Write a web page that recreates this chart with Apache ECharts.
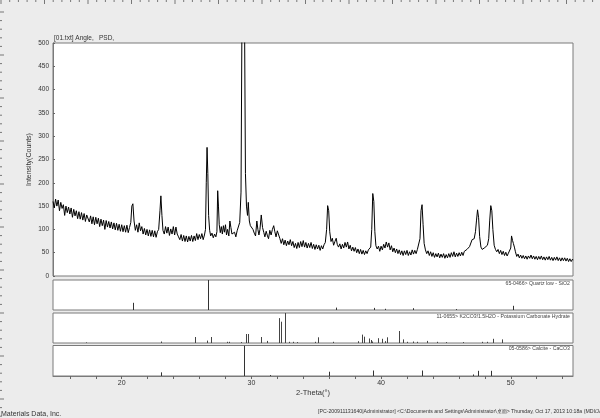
<!DOCTYPE html>
<html>
<head>
<meta charset="utf-8">
<script src="https://cdn.jsdelivr.net/npm/echarts@6/dist/echarts.min.js"></script>
<style>
html,body{margin:0;padding:0;background:#ececec;}
#c{width:600px;height:418px;}
</style>
</head>
<body>
<div id="c"></div>
<script>
// ---- Data ----
const headerFile = '[01.txt] Angle,';
const headerCol = 'PSD,';
const yName = 'Intensity(Counts)';
const xName = '2-Theta(°)';
const yTicks = [0, 50, 100, 150, 200, 250, 300, 350, 400, 450, 500];
const xLabelValues = [20, 30, 40, 50];
const xMinorTicks = [16, 18, 20, 22, 24, 26, 28, 30, 32, 34, 36, 38, 40, 42, 44, 46, 48, 50, 52, 54];

// measured scan: [2-theta, counts]
const scan = [
[14.7,160],[14.8,146],[14.9,165],[15.0,150],[15.1,163],[15.2,140],[15.3,158],[15.4,145],[15.5,153],[15.6,130],
[15.7,150],[15.8,136],[15.9,148],[16.0,133],[16.1,146],[16.2,126],[16.3,143],[16.4,129],[16.5,140],[16.6,123],
[16.7,138],[16.8,122],[16.9,136],[17.0,120],[17.1,134],[17.2,117],[17.3,131],[17.4,133],[17.5,116],[17.6,129],
[17.7,112],[17.8,127],[17.9,110],[18.0,126],[18.1,112],[18.2,124],[18.3,106],[18.4,122],[18.5,108],[18.6,120],
[18.7,100],[18.8,119],[18.9,105],[19.0,117],[19.1,103],[19.2,116],[19.3,101],[19.4,114],[19.5,99],[19.6,113],
[19.7,98],[19.8,111],[19.9,96],[20.0,110],[20.1,95],[20.2,108],[20.3,94],[20.4,109],[20.5,93],[20.6,104],
[20.7,115],[20.78,150],[20.86,155],[20.95,118],[21.05,98],[21.15,110],[21.25,94],[21.35,114],[21.45,97],[21.55,106],
[21.65,90],[21.75,102],[21.85,88],[21.95,100],[22.05,86],[22.15,99],[22.25,85],[22.35,98],[22.45,84],[22.55,97],
[22.65,83],[22.75,95],[22.85,100],[22.95,140],[23.02,172],[23.1,130],[23.18,98],[23.28,90],[23.38,106],[23.48,92],
[23.58,105],[23.68,87],[23.78,101],[23.88,90],[23.98,106],[24.08,88],[24.18,105],[24.28,90],[24.38,84],[24.48,78],
[24.58,89],[24.68,75],[24.78,87],[24.88,74],[24.98,86],[25.08,73],[25.18,85],[25.28,75],[25.38,87],[25.48,74],
[25.58,86],[25.68,76],[25.78,91],[25.88,78],[25.98,89],[26.08,80],[26.18,91],[26.28,78],[26.38,88],[26.46,100],
[26.52,200],[26.58,276],[26.64,220],[26.7,130],[26.78,98],[26.86,86],[26.96,92],[27.06,82],[27.16,90],[27.26,84],
[27.34,95],[27.4,183],[27.46,150],[27.52,110],[27.6,93],[27.68,106],[27.76,90],[27.84,108],[27.92,94],[28.0,110],
[28.08,88],[28.16,100],[28.26,86],[28.34,118],[28.42,104],[28.5,90],[28.6,86],[28.7,94],[28.8,84],[28.9,97],
[29.0,100],[29.1,115],[29.2,180],[29.28,600],[29.34,1200],[29.4,1200],[29.46,600],[29.54,220],[29.62,150],[29.7,130],
[29.76,158],[29.84,118],[29.92,108],[30.02,104],[30.12,100],[30.22,92],[30.32,86],[30.42,118],[30.5,100],[30.58,88],
[30.66,100],[30.76,131],[30.86,104],[30.96,93],[31.04,84],[31.14,96],[31.24,86],[31.32,80],[31.42,98],[31.52,88],
[31.62,100],[31.72,108],[31.8,96],[31.9,84],[32.0,97],[32.1,100],[32.2,80],[32.3,70],[32.4,80],[32.5,67],
[32.6,77],[32.7,65],[32.8,75],[32.9,67],[33.0,78],[33.1,65],[33.2,74],[33.3,61],[33.4,70],[33.5,59],
[33.6,72],[33.7,61],[33.8,74],[33.9,63],[34.0,76],[34.1,62],[34.2,72],[34.3,60],[34.4,70],[34.5,61],
[34.6,72],[34.7,59],[34.8,68],[34.9,57],[35.0,67],[35.1,58],[35.2,66],[35.3,55],[35.4,65],[35.5,58],
[35.6,67],[35.7,72],[35.8,100],[35.88,151],[35.96,140],[36.04,95],[36.14,74],[36.24,81],[36.34,66],[36.44,74],
[36.54,81],[36.62,68],[36.72,62],[36.82,69],[36.92,58],[37.02,68],[37.12,60],[37.22,72],[37.32,62],[37.42,73],
[37.52,58],[37.62,66],[37.72,54],[37.82,62],[37.92,53],[38.02,61],[38.12,50],[38.22,58],[38.32,48],[38.42,57],
[38.52,47],[38.62,55],[38.72,46],[38.82,54],[38.92,48],[39.02,56],[39.12,53],[39.2,62],[39.28,100],[39.36,177],
[39.44,160],[39.52,95],[39.6,65],[39.7,58],[39.8,64],[39.9,53],[40.0,64],[40.1,56],[40.2,68],[40.3,60],
[40.4,73],[40.5,62],[40.6,71],[40.7,56],[40.8,65],[40.9,52],[41.0,60],[41.1,50],[41.2,58],[41.3,48],
[41.4,56],[41.5,46],[41.6,54],[41.7,44],[41.8,54],[41.9,46],[42.0,55],[42.1,44],[42.2,52],[42.3,45],
[42.4,56],[42.5,47],[42.6,55],[42.7,48],[42.8,57],[42.9,58],[43.0,80],[43.08,140],[43.16,153],[43.24,110],
[43.32,70],[43.42,56],[43.52,48],[43.62,54],[43.72,44],[43.82,52],[43.92,42],[44.02,50],[44.12,40],[44.22,48],
[44.32,41],[44.42,49],[44.52,39],[44.62,47],[44.72,40],[44.82,48],[44.92,38],[45.02,46],[45.12,39],[45.22,48],
[45.32,40],[45.42,50],[45.52,42],[45.62,52],[45.72,41],[45.82,49],[45.92,42],[46.02,50],[46.12,43],[46.22,51],
[46.32,44],[46.42,53],[46.52,49],[46.62,57],[46.72,56],[46.82,63],[46.92,67],[47.02,78],[47.1,82],[47.18,80],
[47.28,95],[47.36,120],[47.44,142],[47.52,125],[47.6,85],[47.7,62],[47.8,57],[47.9,53],[48.0,61],[48.1,57],
[48.2,66],[48.3,80],[48.38,120],[48.46,151],[48.54,140],[48.62,100],[48.72,66],[48.82,57],[48.92,52],[49.02,57],
[49.12,48],[49.22,55],[49.32,46],[49.42,53],[49.52,44],[49.62,51],[49.72,43],[49.82,49],[49.92,50],[50.0,60],
[50.06,86],[50.14,76],[50.2,70],[50.28,62],[50.36,52],[50.46,42],[50.56,47],[50.66,39],[50.76,45],[50.86,38],
[50.96,44],[51.06,37],[51.16,43],[51.26,36],[51.36,43],[51.46,38],[51.56,45],[51.66,37],[51.76,43],[51.86,36],
[51.96,42],[52.06,35],[52.16,42],[52.26,36],[52.36,43],[52.46,35],[52.56,41],[52.66,34],[52.76,41],[52.86,35],
[52.96,42],[53.06,34],[53.16,40],[53.26,33],[53.36,40],[53.46,34],[53.56,41],[53.66,33],[53.76,39],[53.86,32],
[53.96,39],[54.06,33],[54.16,39],[54.26,32],[54.36,38],[54.46,31],[54.56,37],[54.66,31],[54.76,36],[54.8,34]
];

// reference patterns: [2-theta, relative intensity %]
const quartzLabel = '65-0466> Quartz low - SiO2';
const quartz = [[20.86,24],[26.64,100],[36.54,8],[39.47,7],[40.29,4],[42.45,6],[45.79,3],[50.14,14],[54.87,4]];

const k2co3Label = '11-0655> K2CO3!1.5H2O - Potassium Carbonate Hydrate';
const k2co3 = [[17.24,2],[23.0,5],[25.66,20],[26.6,8],[26.9,20],[28.08,4],[28.3,4],[29.16,3],[29.6,30],[29.72,30],
[30.72,20],[31.24,7],[32.13,83],[32.32,71],[32.6,100],[32.9,4],[33.2,4],[33.5,3],[34.9,4],[35.15,19],[36.3,4],
[38.2,6],[38.56,28],[38.7,21],[39.05,15],[39.2,10],[39.3,5],[39.8,16],[40.1,14],[40.3,6],[40.45,19],[41.37,40],
[41.72,12],[42.0,4],[42.45,5],[42.8,4],[43.55,7],[44.3,4],[45.0,3],[46.3,3],[47.8,4],[48.2,4],[48.6,14],[49.3,12]];

const calciteLabel = '05-0586> Calcite - CaCO3';
const calcite = [[23.05,12],[29.41,100],[31.43,3],[35.97,14],[39.41,18],[43.15,18],[47.12,5],[47.5,17],[48.51,17]];

const footLeft = 'Materials Data, Inc.';
const footRight = '[PC-200911131640|Administrator] <C:\\Documents and Settings\\Administrator\\桌面> Thursday, Oct 17, 2013 10:18a (MDI/JADE6)';

// ---- Layout ----
const X0 = 53, W = 520;
const FONT = '"Liberation Sans", Arial, sans-serif';
const chart = echarts.init(document.getElementById('c'), null, {renderer: 'canvas'});

function stickSeries(idx, data, color) {
  return {
    type: 'custom', xAxisIndex: idx, yAxisIndex: idx, data: data, silent: true, clip: true,
    renderItem: function (params, api) {
      const top = api.coord([api.value(0), api.value(1)]);
      const base = api.coord([api.value(0), 0]);
      const x = Math.round(top[0]) + 0.5;
      return {type: 'line', shape: {x1: x, y1: base[1], x2: x, y2: top[1]},
        style: {stroke: color, lineWidth: 1}};
    }
  };
}

const xMin = 14.7, xMax = 54.8;
function hiddenX(gi) {
  return {type: 'value', gridIndex: gi, min: xMin, max: xMax, show: false, splitLine: {show: false}};
}

// ruler decorations
const ruler = [];
for (let i = 0; i < 70; i++) {
  const x = 1 + i * 8.7;
  ruler.push({type: 'line', shape: {x1: x, y1: 0, x2: x, y2: (i % 5 === 0 ? 4 : 2)}, style: {stroke: '#777', lineWidth: 1}, silent: true});
}
for (let i = 0; i < 48; i++) {
  const y = 12 + i * 8.6;
  ruler.push({type: 'line', shape: {x1: 0, y1: y, x2: (i % 5 === 0 ? 4 : 2), y2: y}, style: {stroke: '#777', lineWidth: 1}, silent: true});
}

const txt = (t, x, y, size, align, color) => ({type: 'text', x: x, y: y, silent: true,
  style: {text: t, fontSize: size, fontFamily: FONT, fill: color || '#333', align: align || 'left', verticalAlign: 'middle'}});

chart.setOption({
  backgroundColor: '#ececec',
  animation: false,
  grid: [
    {left: X0, top: 43, width: W, height: 233, show: true, backgroundColor: '#fff', borderColor: '#7a7a7a', borderWidth: 1, outerBoundsMode: 'none'},
    {left: X0, top: 280, width: W, height: 30, show: true, backgroundColor: '#fff', borderColor: '#7a7a7a', borderWidth: 1, outerBoundsMode: 'none'},
    {left: X0, top: 313, width: W, height: 30, show: true, backgroundColor: '#fff', borderColor: '#7a7a7a', borderWidth: 1, outerBoundsMode: 'none'},
    {left: X0, top: 345.5, width: W, height: 30.5, show: true, backgroundColor: '#fff', borderColor: '#7a7a7a', borderWidth: 1, outerBoundsMode: 'none'}
  ],
  xAxis: [
    hiddenX(0), hiddenX(1), hiddenX(2),
    {type: 'value', gridIndex: 3, min: xMin, max: xMax, position: 'bottom',
      name: xName, nameLocation: 'middle', nameGap: 13,
      nameTextStyle: {fontSize: 7.5, fontFamily: FONT, color: '#333'},
      axisLine: {show: true, lineStyle: {color: '#7a7a7a'}},
      axisTick: {show: true, length: 3, inside: false, customValues: xMinorTicks, lineStyle: {color: '#666'}},
      axisLabel: {show: true, fontSize: 7, fontFamily: FONT, color: '#333', margin: 4, customValues: xLabelValues},
      splitLine: {show: false}}
  ],
  yAxis: [
    {type: 'value', gridIndex: 0, min: 0, max: 500, interval: 50,
      name: yName, nameLocation: 'middle', nameGap: 20, nameRotate: 90, nameMoveOverlap: false,
      nameTextStyle: {fontSize: 7, fontFamily: FONT, color: '#333'},
      axisLine: {show: true, lineStyle: {color: '#7a7a7a'}},
      axisTick: {show: true, inside: true, length: 2, lineStyle: {color: '#666'}},
      axisLabel: {fontSize: 6.5, fontFamily: FONT, color: '#333', margin: 4,
        customValues: yTicks},
      splitLine: {show: false}},
    {type: 'value', gridIndex: 1, min: 0, max: 100, show: false, splitLine: {show: false}},
    {type: 'value', gridIndex: 2, min: 0, max: 100, show: false, splitLine: {show: false}},
    {type: 'value', gridIndex: 3, min: 0, max: 100, show: false, splitLine: {show: false}}
  ],
  series: [
    {type: 'line', xAxisIndex: 0, yAxisIndex: 0, data: scan, showSymbol: false, symbol: 'none',
      lineStyle: {color: '#000', width: 1}, clip: true, silent: true},
    stickSeries(1, quartz, '#333'),
    stickSeries(2, k2co3, '#444'),
    stickSeries(3, calcite, '#333')
  ],
  graphic: ruler.concat([
    txt(headerFile, 54, 38.5, 6.5),
    txt(headerCol, 99, 38.5, 6.5),
    txt(quartzLabel, 570, 283.5, 5.2, 'right', '#444'),
    txt(k2co3Label, 570, 316.5, 5.2, 'right', '#444'),
    txt(calciteLabel, 570, 349, 5.2, 'right', '#444'),
    txt(footLeft, 1, 414, 7),
    txt(footRight, 318, 412, 5.2)
  ])
});
</script>
</body>
</html>
